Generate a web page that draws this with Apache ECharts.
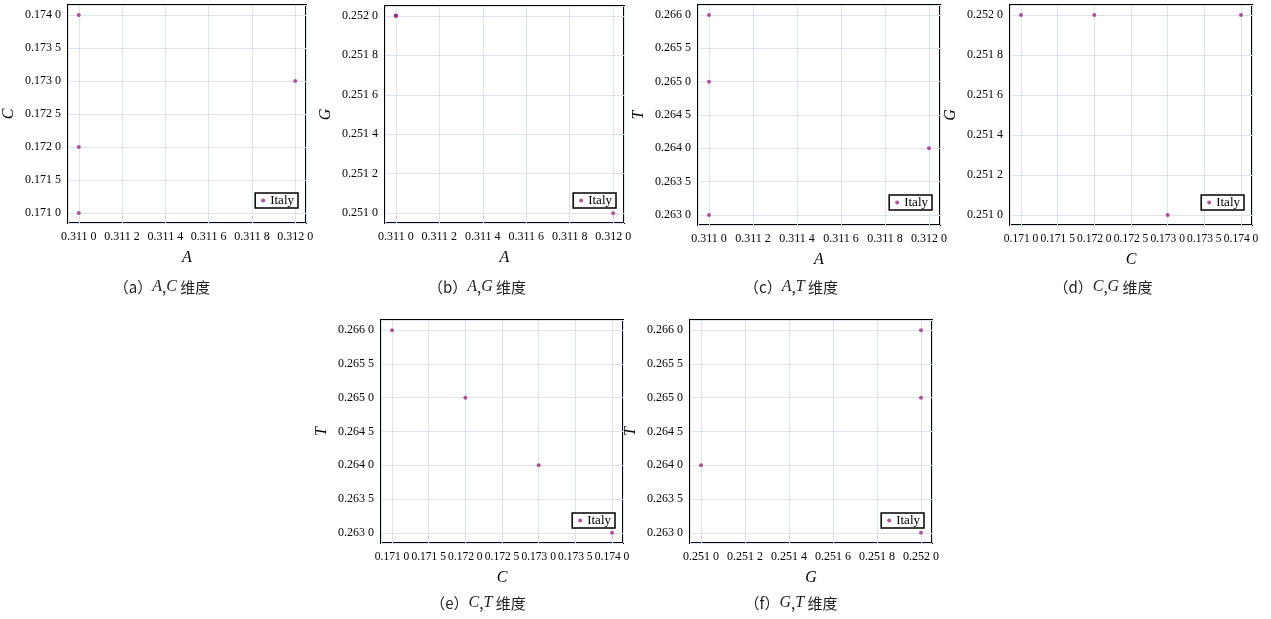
<!DOCTYPE html>
<html>
<head>
<meta charset="utf-8">
<script src="https://cdn.jsdelivr.net/npm/echarts@6/dist/echarts.min.js"></script>
<style>
  html, body { margin: 0; padding: 0; background: #fff; }
  #main { width: 1271px; height: 619px; }
</style>
</head>
<body>
<div id="main"></div>
<script>
  // 四个样本点 (Italy) 在各维度上的取值
  const valA = [0.311, 0.311, 0.312, 0.311]
  const valC = [0.171, 0.172, 0.173, 0.174]
  const valG = [0.252, 0.252, 0.251, 0.252]
  const valT = [0.266, 0.265, 0.264, 0.263]

  const dims = {A: valA, C: valC, G: valG, T: valT}
  // 子图: [x维, y维, 标号]
  const panels = [
    ['A', 'C', 'a'],
    ['A', 'G', 'b'],
    ['A', 'T', 'c'],
    ['C', 'G', 'd'],
    ['C', 'T', 'e'],
    ['G', 'T', 'f']
  ]
  // 绘图区位置 [left, top, right, bottom] (px)
  const boxes = [
    [67, 5, 306, 223],
    [385, 6, 624, 223],
    [698, 5, 940, 225],
    [1010, 5, 1252, 225],
    [381, 320, 623, 543],
    [690, 320, 932, 543]
  ]
  const captionPos = [[162, 287], [477, 287], [791, 287], [1103, 287], [478, 603], [791, 603]]

  const W = 1271, H = 619
  const serif = '"Liberation Serif", "DejaVu Serif", serif'
  const pointColor = '#9c2a80'

  function fmt(v) {
    let s = v.toFixed(4)
    return s.slice(0, 5) + ' ' + s.slice(5)
  }

  function padMin(v) { return v.min - (v.max - v.min) * 0.05 }
  function padMax(v) { return v.max + (v.max - v.min) * 0.05 }

  function makeAxis(name, idx, isX, split) {
    return {
      type: 'value',
      gridIndex: idx,
      name: name,
      nameLocation: 'middle',
      nameGap: isX ? 27 : 51,
      nameMoveOverlap: false,
      nameRotate: isX ? 0 : 90,
      nameTextStyle: {fontFamily: serif, fontStyle: 'italic', fontSize: 16, color: '#000'},
      min: padMin,
      max: padMax,
      scale: true,
      splitNumber: split,
      axisLine: {show: false},
      axisTick: {show: false},
      axisLabel: {
        fontFamily: serif,
        fontSize: (isX && name === 'C') ? 11.5 : 12,
        color: '#000',
        margin: isX ? 8 : 7,
        showMinLabel: false, showMaxLabel: false,
        formatter: fmt
      },
      splitLine: {show: true, lineStyle: {color: '#dde3ef', width: 1}}
    }
  }

  let grid = [], xAxis = [], yAxis = [], series = [], legend = [], graphic = []
  panels.forEach((p, i) => {
    let b = boxes[i]
    grid.push({
      left: b[0], top: b[1], width: b[2] - b[0], height: b[3] - b[1],
      show: true, borderColor: '#000', borderWidth: 2, backgroundColor: 'transparent'
    })
    xAxis.push(makeAxis(p[0], i, true, p[0] === 'C' ? 6 : 5))
    yAxis.push(makeAxis(p[1], i, false, p[1] === 'G' ? 5 : 6))
    series.push({
      name: 'Italy',
      type: 'scatter',
      xAxisIndex: i,
      yAxisIndex: i,
      symbolSize: 4,
      itemStyle: {color: pointColor},
      data: dims[p[0]].map((v, k) => [v, dims[p[1]][k]])
    })
    legend.push({
      data: ['Italy'],
      right: W - b[2] + 8,
      bottom: H - b[3] + 15,
      icon: 'circle',
      itemWidth: 4,
      itemHeight: 4,
      itemGap: 4,
      padding: [1, 4, 1, 6],
      borderColor: '#000',
      borderWidth: 1.5,
      backgroundColor: '#fff',
      textStyle: {fontFamily: serif, fontSize: 13, color: '#000'}
    })
    let c = captionPos[i]
    graphic.push({
      type: 'text',
      x: c[0], y: c[1],
      style: {
        text: '{n|（' + p[2] + '）}{i|' + p[0] + '}{n|,}{i|' + p[1] + '}{n| 维度}',
        align: 'center',
        verticalAlign: 'middle',
        rich: {
          n: {fontFamily: '"Noto Sans CJK SC", ' + serif, fontSize: 15, fill: '#222'},
          i: {fontFamily: serif, fontStyle: 'italic', fontSize: 16, fill: '#222'}
        }
      }
    })
  })

  let chart = echarts.init(document.getElementById('main'))
  chart.setOption({
    animation: false,
    grid: grid,
    xAxis: xAxis,
    yAxis: yAxis,
    legend: legend,
    series: series,
    graphic: graphic
  })
</script>
</body>
</html>
